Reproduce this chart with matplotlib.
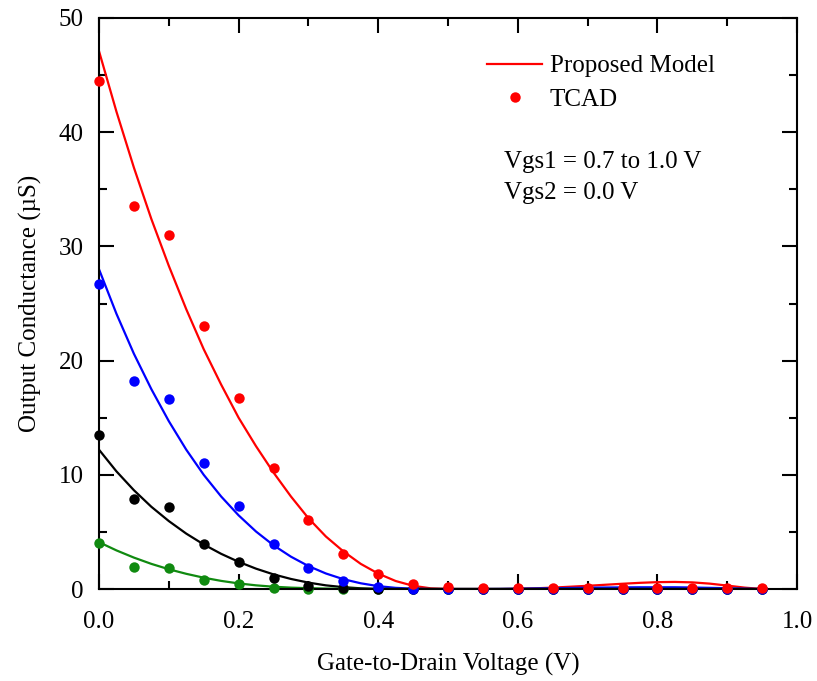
import matplotlib
matplotlib.use("Agg")
import matplotlib.pyplot as plt
from matplotlib.ticker import MultipleLocator, FormatStrFormatter
from matplotlib.lines import Line2D

plt.rcParams['font.family'] = ['Liberation Serif', 'DejaVu Serif']

# TCAD sample points
x_pts = [0.0, 0.05, 0.1, 0.15, 0.2, 0.25, 0.3, 0.35, 0.4, 0.45,
         0.5, 0.55, 0.6, 0.65, 0.7, 0.75, 0.8, 0.85, 0.9, 0.95]
tcad_red = [44.5, 33.5, 31.0, 23.0, 16.7, 10.6, 6.0, 3.1, 1.3, 0.4,
            0.2, 0.05, 0.1, 0.05, 0.1, 0.1, 0.1, 0.1, 0.1, 0.05]
tcad_blue = [26.7, 18.2, 16.6, 11.0, 7.3, 3.9, 1.8, 0.7, 0.2, 0.0,
             0.0, 0.0, 0.0, 0.0, 0.0, 0.0, 0.0, 0.0, 0.0, 0.0]
tcad_black = [13.5, 7.9, 7.2, 3.9, 2.4, 1.0, 0.3, 0.1, 0.0, 0.0,
              0.0, 0.0, 0.0, 0.0, 0.0, 0.0, 0.0, 0.0, 0.0, 0.0]
tcad_green = [4.0, 1.9, 1.8, 0.8, 0.4, 0.1, 0.0, 0.0, 0.0, 0.0,
              0.0, 0.0, 0.0, 0.0, 0.0, 0.0, 0.0, 0.0, 0.0, 0.0]

# Proposed model curves
x_mod = [0.0, 0.025, 0.05, 0.075, 0.1, 0.125, 0.15, 0.175, 0.2, 0.225,
         0.25, 0.275, 0.3, 0.325, 0.35, 0.375, 0.4, 0.425, 0.45, 0.475,
         0.5, 0.525, 0.55, 0.575, 0.6, 0.625, 0.65, 0.675, 0.7, 0.725,
         0.75, 0.775, 0.8, 0.825, 0.85, 0.875, 0.9, 0.925, 0.95]
mod_red = [47.1, 41.8, 36.9, 32.4, 28.3, 24.5, 21.0, 17.9, 15.0, 12.5,
           10.2, 8.1, 6.2, 4.6, 3.3, 2.2, 1.35, 0.7, 0.28, 0.06,
           0.0, 0.0, 0.0, 0.0, 0.02, 0.06, 0.12, 0.2, 0.28, 0.37,
           0.46, 0.54, 0.6, 0.62, 0.58, 0.47, 0.3, 0.12, 0.0]
mod_blue = [28.0, 24.1, 20.6, 17.5, 14.7, 12.2, 10.0, 8.1, 6.45, 5.03,
            3.83, 2.83, 2.01, 1.36, 0.86, 0.5, 0.25, 0.1, 0.03, 0.0,
            0.0, 0.0, 0.0, 0.01, 0.03, 0.05, 0.07, 0.09, 0.11, 0.13,
            0.14, 0.15, 0.15, 0.15, 0.13, 0.1, 0.07, 0.03, 0.0]
mod_black = [12.2, 10.3, 8.65, 7.2, 5.95, 4.85, 3.9, 3.08, 2.38, 1.78,
             1.28, 0.88, 0.56, 0.32, 0.16, 0.06, 0.01, 0.0, 0.0, 0.0,
             0.0, 0.0, 0.0, 0.0, 0.0, 0.0, 0.0, 0.0, 0.0, 0.0,
             0.0, 0.0, 0.0, 0.0, 0.0, 0.0, 0.0, 0.0, 0.0]
mod_green = [4.1, 3.38, 2.75, 2.2, 1.73, 1.33, 0.99, 0.71, 0.49, 0.32,
             0.2, 0.12, 0.07, 0.04, 0.02, 0.01, 0.0, 0.0, 0.0, 0.0,
             0.0, 0.0, 0.0, 0.0, 0.0, 0.0, 0.0, 0.0, 0.0, 0.0,
             0.0, 0.0, 0.0, 0.0, 0.0, 0.0, 0.0, 0.0, 0.0]

colors = {'red': '#ff0000', 'blue': '#0000ff', 'black': '#000000', 'green': '#108a10'}

fig = plt.figure(figsize=(8.17, 6.81), dpi=100)
ax = fig.add_axes([99/817, 1-589/681, (797-99)/817, (589-18)/681])

lw = 1.6
ax.plot(x_mod, mod_red, color=colors['red'], lw=lw, zorder=2)
ax.plot(x_mod, mod_blue, color=colors['blue'], lw=lw, zorder=2)
ax.plot(x_mod, mod_black, color=colors['black'], lw=lw, zorder=2)
ax.plot(x_mod, mod_green, color=colors['green'], lw=lw, zorder=2)

ms = 7.5
for ys, c in [(tcad_green, 'green'), (tcad_black, 'black'), (tcad_blue, 'blue'), (tcad_red, 'red')]:
    ax.plot(x_pts, ys, 'o', color=colors[c], ms=ms, mec='none', zorder=3, clip_on=False)

ax.set_xlim(0, 1.0)
ax.set_ylim(0, 50)
ax.xaxis.set_major_locator(MultipleLocator(0.2))
ax.xaxis.set_minor_locator(MultipleLocator(0.1))
ax.yaxis.set_major_locator(MultipleLocator(10))
ax.yaxis.set_minor_locator(MultipleLocator(5))
ax.xaxis.set_major_formatter(FormatStrFormatter('%.1f'))

ax.tick_params(which='both', direction='in', top=True, right=True, width=1.5, labelsize=18)
ax.tick_params(axis='x', which='major', length=11, pad=16)
ax.tick_params(axis='y', which='major', length=11, pad=11)
ax.tick_params(which='minor', length=6)
for sp in ax.spines.values():
    sp.set_linewidth(1.5)

ax.set_xlabel('Gate-to-Drain Voltage (V)', fontsize=18, labelpad=14)
ax.set_ylabel('Output Conductance (µS)', fontsize=18, labelpad=12)

handles = [Line2D([], [], color=colors['red'], lw=lw),
           Line2D([], [], ls='none', marker='o', color=colors['red'], ms=ms, mec='none')]
ax.legend(handles, ['Proposed Model', 'TCAD'], loc='upper left',
          bbox_to_anchor=(0.542, 0.953), frameon=False, fontsize=18,
          handlelength=2.2, handletextpad=0.3, labelspacing=0.44, borderaxespad=0)

ax.text(0.58, 0.7207, 'Vgs1 = 0.7 to 1.0 V\nVgs2 = 0.0 V', transform=ax.transAxes,
        fontsize=18, va='center', ha='left', linespacing=1.5)

fig.savefig('out.png', dpi=100)
